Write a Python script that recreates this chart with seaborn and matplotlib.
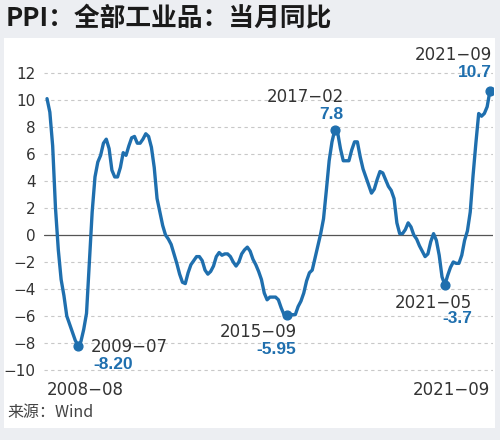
import numpy as np
import pandas as pd
import seaborn as sns
import matplotlib.pyplot as plt
from matplotlib.patches import Rectangle

# PPI yoy (%), monthly, 2008-08 .. 2021-09
ppi_2008 = [10.1, 9.1, 6.6, 2.0, -1.1]
ppi_2009 = [-3.3, -4.5, -6.0, -6.6, -7.2, -7.8, -8.2, -7.9, -7.0, -5.8, -2.1, 1.7]
ppi_2010 = [4.3, 5.4, 5.9, 6.8, 7.1, 6.4, 4.8, 4.3, 4.3, 5.0, 6.1, 5.9]
ppi_2011 = [6.6, 7.2, 7.3, 6.8, 6.8, 7.1, 7.5, 7.3, 6.5, 5.0, 2.7, 1.7]
ppi_2012 = [0.7, 0.0, -0.3, -0.7, -1.4, -2.1, -2.9, -3.5, -3.6, -2.8, -2.2, -1.9]
ppi_2013 = [-1.6, -1.6, -1.9, -2.6, -2.9, -2.7, -2.3, -1.6, -1.3, -1.5, -1.4, -1.4]
ppi_2014 = [-1.6, -2.0, -2.3, -2.0, -1.4, -1.1, -0.9, -1.2, -1.8, -2.2, -2.7, -3.3]
ppi_2015 = [-4.3, -4.8, -4.6, -4.6, -4.6, -4.8, -5.4, -5.9, -5.9, -5.9, -5.9, -5.9]
ppi_2016 = [-5.3, -4.9, -4.3, -3.4, -2.8, -2.6, -1.7, -0.8, 0.1, 1.2, 3.3, 5.5]
ppi_2017 = [6.9, 7.8, 7.6, 6.4, 5.5, 5.5, 5.5, 6.3, 6.9, 6.9, 5.8, 4.9]
ppi_2018 = [4.3, 3.7, 3.1, 3.4, 4.1, 4.7, 4.6, 4.1, 3.6, 3.3, 2.7, 0.9]
ppi_2019 = [0.1, 0.1, 0.4, 0.9, 0.6, 0.0, -0.3, -0.8, -1.2, -1.6, -1.4, -0.5]
ppi_2020 = [0.1, -0.4, -1.5, -3.1, -3.7, -3.0, -2.4, -2.0, -2.1, -2.1, -1.5, -0.4]
ppi_2021 = [0.3, 1.7, 4.4, 6.8, 9.0, 8.8, 9.0, 9.5, 10.7]

yticks = [-10, -8, -6, -4, -2, 0, 2, 4, 6, 8, 10, 12]
xtick_labels = ["2008−08", "2021−09"]

# callouts: month on the line, date text, value text
callout_months = ["2009-07", "2015-09", "2017-02", "2020-05", "2021-09"]
callout_dates = ["2009−07", "2015−09", "2017−02", "2021−05", "2021−09"]
callout_values = ["-8.20", "-5.95", "7.8", "-3.7", "10.7"]

values = (ppi_2008 + ppi_2009 + ppi_2010 + ppi_2011 + ppi_2012 + ppi_2013 + ppi_2014
          + ppi_2015 + ppi_2016 + ppi_2017 + ppi_2018 + ppi_2019 + ppi_2020 + ppi_2021)
months = pd.period_range("2008-08", "2021-09", freq="M").strftime("%Y-%m")
df = pd.DataFrame({"month": months, "i": np.arange(len(months)), "ppi": values})

blue = "#1f6fae"
grey_txt = "#333333"

sns.set_style("white")
plt.rcParams["font.family"] = ["DejaVu Sans", "Noto Sans CJK SC"]
plt.rcParams["axes.unicode_minus"] = True

fig = plt.figure(figsize=(5, 4.4), dpi=100, facecolor="#eceef2")
# white card behind the chart
fig.patches.append(Rectangle((4 / 500, 12 / 440), 491 / 500, 390 / 440,
                             transform=fig.transFigure, facecolor="white",
                             edgecolor="none", zorder=-10))

ax = fig.add_axes([44.2 / 500, 1 - 376.75 / 440, 448.6 / 500, 317.25 / 440])
ax.set_facecolor("none")

sns.lineplot(data=df, x="i", y="ppi", ax=ax, color=blue, linewidth=2.4, zorder=3)

ax.set_xlim(-1, len(months))
ax.set_ylim(-10.5, 13)
ax.set_yticks(yticks)
ax.set_yticklabels([f"{t}".replace("-", "−") for t in yticks], fontsize=11, color=grey_txt)
ax.set_xticks([0, len(months) - 1])
ax.set_xticklabels(xtick_labels, fontsize=12, color=grey_txt)
xl = ax.get_xticklabels()
xl[0].set_ha("left")
xl[1].set_ha("right")
ax.tick_params(axis="both", length=0)
ax.tick_params(axis="y", pad=6)
ax.tick_params(axis="x", pad=3)
ax.set_xlabel("")
ax.set_ylabel("")
for s in ax.spines.values():
    s.set_visible(False)

for t in yticks:
    if t != 0:
        ax.axhline(t, color="#c8c8c8", linewidth=0.8, linestyle=(0, (3, 3)), zorder=1)
ax.axhline(0, color="#555555", linewidth=0.9, zorder=2)

offsets = [((13, -1), (15, -19), "left"),
           ((10, -17), (9, -35), "right"),
           ((9, 33), (9, 15), "right"),
           ((27, -18), (27, -34), "right"),
           ((2, 36), (2, 18), "right")]
pts = df.set_index("month").loc[callout_months]
ax.scatter(pts["i"], pts["ppi"], s=40, color=blue, zorder=4)
for (i, v), d, val, (o1, o2, ha) in zip(pts[["i", "ppi"]].values, callout_dates,
                                         callout_values, offsets):
    ax.annotate(d, (i, v), xytext=o1, textcoords="offset pixels", ha=ha, va="center",
                fontsize=12, color=grey_txt)
    ax.annotate(val, (i, v), xytext=o2, textcoords="offset pixels", ha=ha, va="center",
                fontsize=12.5, color=blue, fontweight="bold", family="Liberation Sans")

fig.text(6 / 500, 1 - 18 / 440, "PPI：全部工业品：当月同比", fontsize=18.5, fontweight="bold",
         color="#1a1a1a", va="center", ha="left", family=["Noto Sans CJK SC"])
fig.text(7 / 500, 1 - 412 / 440, "来源：Wind", fontsize=11.5, color="#444444",
         va="center", ha="left", family=["Noto Sans CJK SC"])

fig.savefig("out.png", dpi=100, facecolor=fig.get_facecolor())
